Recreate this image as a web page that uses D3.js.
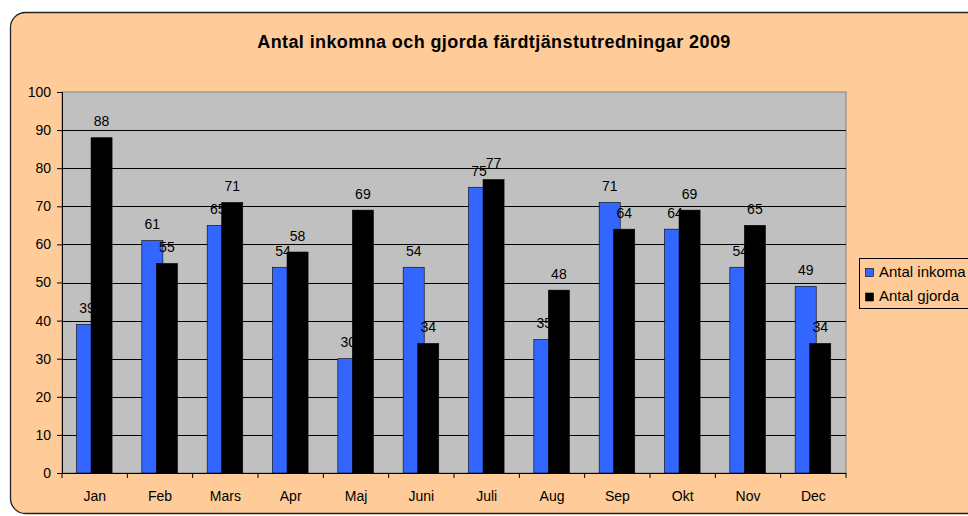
<!DOCTYPE html>
<html>
<head>
<meta charset="utf-8">
<script src="https://cdn.jsdelivr.net/npm/d3@7"></script>
<style>
  body { margin: 0; background: #fff; }
  svg { display: block; font-family: "Liberation Sans", Arial, sans-serif; }
</style>
</head>
<body>
<svg id="chart" width="968" height="516"></svg>
<script>
const months = ['Jan', 'Feb', 'Mars', 'Apr', 'Maj', 'Juni', 'Juli', 'Aug', 'Sep', 'Okt', 'Nov', 'Dec'];
const inkomna = [39, 61, 65, 54, 30, 54, 75, 35, 71, 64, 54, 49];
const gjorda = [88, 55, 71, 58, 69, 34, 77, 48, 64, 69, 65, 34];
const seriesNames = ['Antal inkoma', 'Antal gjorda'];
const yTicks = d3.range(0, 101, 10);

const svg = d3.select('#chart');
const plot = {left: 62, top: 92, right: 846, bottom: 473};

// outer chart area
svg.append('rect')
  .attr('x', 10.5).attr('y', 12.5)
  .attr('width', 980).attr('height', 501)
  .attr('rx', 15).attr('ry', 15)
  .attr('fill', '#FFCC99')
  .attr('stroke', '#222').attr('stroke-width', 1.3);

svg.append('text')
  .attr('x', 494).attr('y', 48)
  .attr('text-anchor', 'middle')
  .attr('font-size', 18).attr('font-weight', 'bold')
  .attr('letter-spacing', 0.4)
  .text('Antal inkomna och gjorda färdtjänstutredningar 2009');

const x = d3.scaleBand().domain(months).range([plot.left, plot.right]);
const y = d3.scaleLinear().domain([0, 100]).range([plot.bottom, plot.top]);

svg.append('rect')
  .attr('x', plot.left).attr('y', plot.top)
  .attr('width', plot.right - plot.left).attr('height', plot.bottom - plot.top)
  .attr('fill', '#C0C0C0')
  .attr('stroke', '#808080');

// gridlines
svg.append('g').selectAll('line')
  .data(yTicks.filter(d => d > 0 && d < 100))
  .join('line')
  .attr('x1', plot.left).attr('x2', plot.right)
  .attr('y1', d => Math.round(y(d)) + 0.5).attr('y2', d => Math.round(y(d)) + 0.5)
  .attr('stroke', '#000').attr('stroke-width', 1);

// bars: about 21px wide, second series overlapping the first by ~6px
const barW = x.bandwidth() * 0.322;
const pad = x.bandwidth() * 0.222;
const step = barW - 6.5;

const drawSeries = (values, offset, colour) => {
  svg.append('g').selectAll('rect')
    .data(values)
    .join('rect')
    .attr('x', (d, i) => x(months[i]) + pad + offset)
    .attr('y', d => y(d))
    .attr('width', barW)
    .attr('height', d => y(0) - y(d))
    .attr('fill', colour)
    .attr('stroke', '#000').attr('stroke-width', 0.6);
  svg.append('g').selectAll('text')
    .data(values)
    .join('text')
    .attr('x', (d, i) => x(months[i]) + pad + offset + barW / 2)
    .attr('y', d => y(d) - 11.5)
    .attr('text-anchor', 'middle')
    .attr('font-size', 14)
    .text(d => d);
};
drawSeries(inkomna, 0, '#3366FF');
drawSeries(gjorda, step, '#000000');

// axes
const yAxis = d3.axisLeft(y).tickValues(yTicks).tickSize(5).tickPadding(6);
svg.append('g')
  .attr('transform', `translate(${plot.left},0)`)
  .call(yAxis)
  .call(g => g.select('.domain').attr('stroke', '#000'))
  .call(g => g.selectAll('text').attr('font-size', 14).attr('fill', '#000'))
  .attr('font-family', null);

const xAxis = d3.axisBottom(x).tickSize(0).tickPadding(18);
svg.append('g')
  .attr('transform', `translate(0,${plot.bottom})`)
  .call(xAxis)
  .call(g => g.select('.domain').attr('stroke', '#000'))
  .call(g => g.selectAll('text').attr('font-size', 14).attr('fill', '#000'))
  .attr('font-family', null);

// ticks between categories
svg.append('g').selectAll('line')
  .data(months.concat(['end']))
  .join('line')
  .attr('x1', (d, i) => plot.left + i * x.step()).attr('x2', (d, i) => plot.left + i * x.step())
  .attr('y1', plot.bottom).attr('y2', plot.bottom + 5)
  .attr('stroke', '#000');

// legend
const legend = svg.append('g').attr('transform', 'translate(859,258)');
legend.append('rect')
  .attr('x', 0.5).attr('y', 0.5).attr('width', 140).attr('height', 50)
  .attr('fill', '#FFCC99').attr('stroke', '#000');
[['#3366FF', seriesNames[0]], ['#000000', seriesNames[1]]].forEach(([c, name], i) => {
  legend.append('rect')
    .attr('x', 6.5).attr('y', 10.5 + i * 24.5).attr('width', 8).attr('height', 8)
    .attr('fill', c).attr('stroke', '#000').attr('stroke-width', 0.6);
  legend.append('text')
    .attr('x', 20).attr('y', 18.5 + i * 24.5)
    .attr('font-size', 15)
    .text(name);
});
</script>
</body>
</html>
